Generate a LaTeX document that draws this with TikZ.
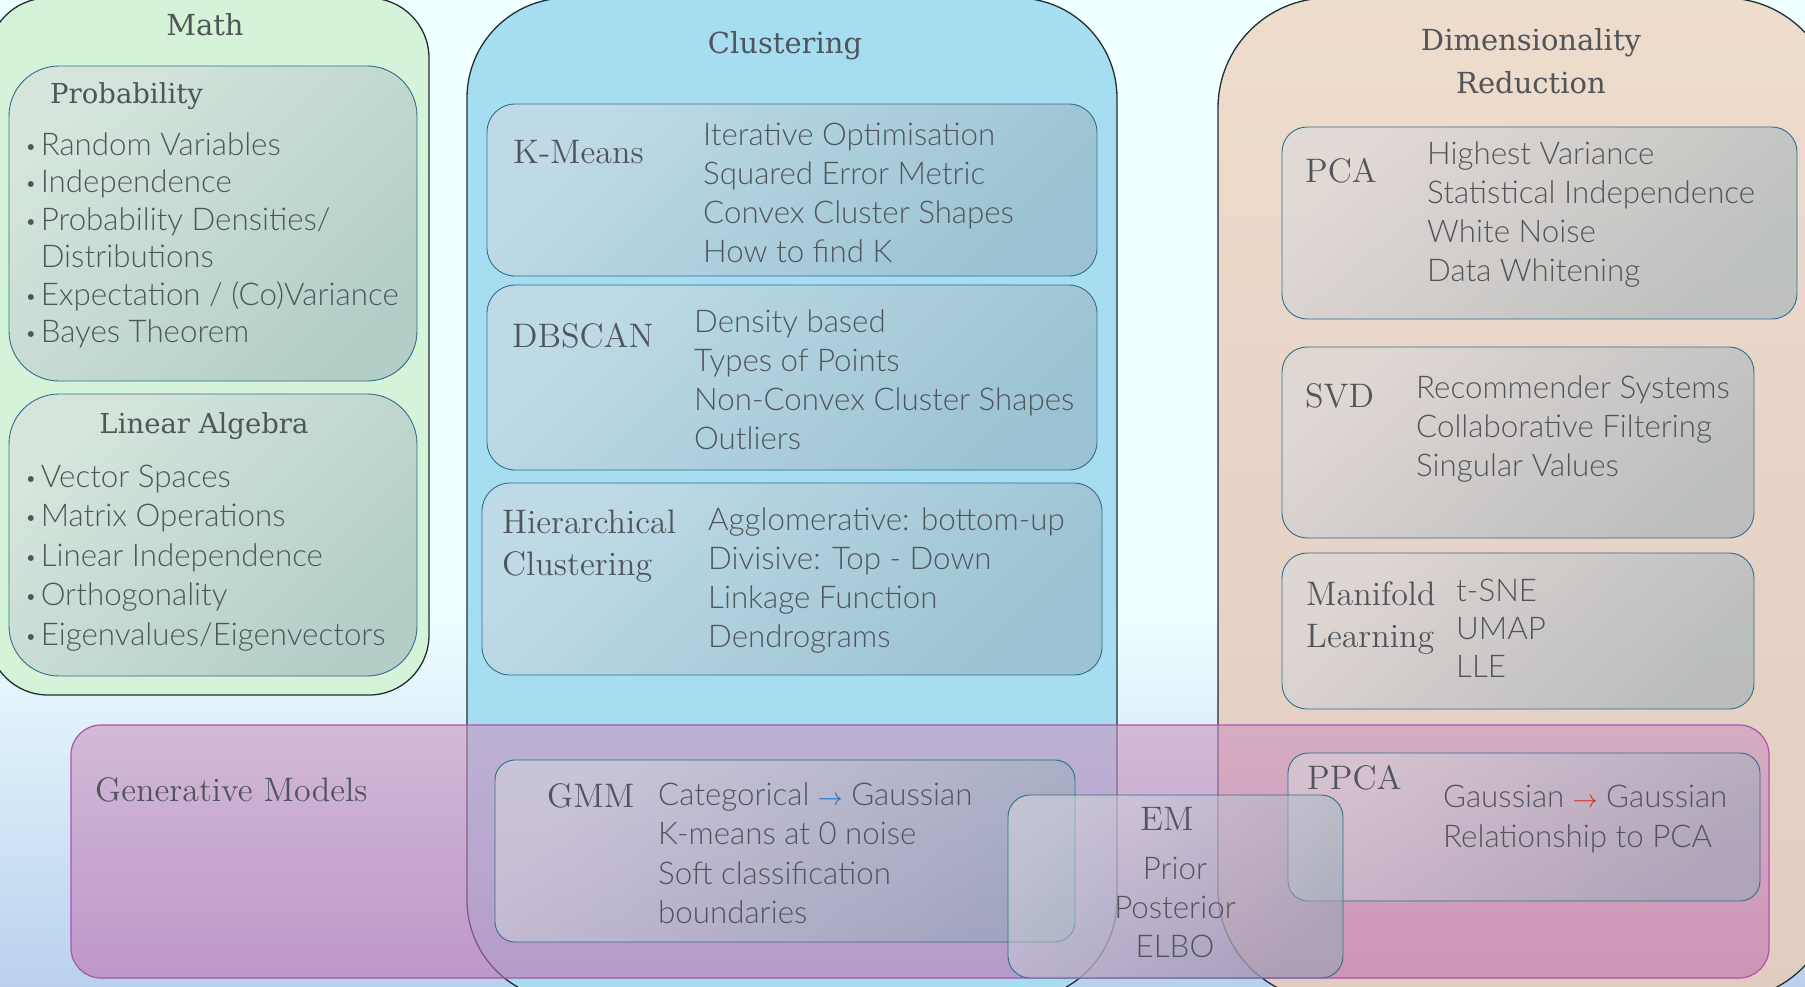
\documentclass[tikz,border=0pt]{standalone}
\usepackage{fontspec}
\setsansfont{Lato Light}
\newfontfamily\slabfont{DejaVu Serif}
\newfontfamily\boxfont{lmroman12-regular}[Extension=.otf]
\usetikzlibrary{positioning}
\definecolor{bgtop}{HTML}{F0FFFF}
\definecolor{bgbot}{HTML}{B9D1EE}
\definecolor{mathfill}{HTML}{D5F3D9}
\definecolor{clusfill}{HTML}{A7DDF0}
\definecolor{dimtop}{HTML}{EEDCCC}
\definecolor{dimbot}{HTML}{E2CCC2}
\definecolor{outline}{HTML}{1F2F35}
\definecolor{innerline}{HTML}{2E6E8C}
\definecolor{shadelt}{HTML}{D7D9DF}
\definecolor{shadedk}{HTML}{91ABB7}
\definecolor{genlt}{HTML}{CB96C1}
\definecolor{gendk}{HTML}{C070B0}
\definecolor{genline}{HTML}{B050B0}
\definecolor{ink}{HTML}{50555B}
\definecolor{arrowblue}{HTML}{1F6FBF}
\definecolor{arrowred}{HTML}{D42A1A}
\newcommand\smalldot{\raisebox{2pt}{\fontsize{20}{20}\selectfont\textbullet}\hspace{4pt}}

\begin{document}
\begin{tikzpicture}[x=1pt, y=-1pt,
    outer/.style={draw=outline, line width=1.3pt},
    inner/.style={draw=innerline, line width=0.9pt, top color=shadelt, bottom color=shadedk, shading angle=45, fill opacity=0.5},
    head/.style={font=\slabfont\fontsize{29}{36}\selectfont, text=ink, inner sep=0pt},
    subhead/.style={head, font=\slabfont\fontsize{27.5}{34}\selectfont},
    boxhead/.style={font=\boxfont\fontsize{34}{40}\selectfont, text=ink, inner sep=0pt, anchor=base west},
    item/.style={font=\sffamily\fontsize{31.3}{36}\selectfont, text=ink, inner sep=0pt, anchor=base west}]
    \useasboundingbox (0,0) rectangle (1805,986);
    \clip (0,0) rectangle (1805,986);
    \fill[bgtop] (0,0) rectangle (1805,986);
    \shade[top color=bgtop, bottom color=bgbot] (0,600) rectangle (1805,986);

    % Math
    \draw[outer, fill=mathfill, rounded corners=60pt] (-12,-2) rectangle (429,695);
    \node[head, anchor=base] (math) at (205,35) {Math};
    \draw[inner, rounded corners=50pt] (9,66) rectangle (417,381);
    \node[subhead, anchor=base west] (prob) at (50,103) {Probability};
    \foreach \t [count=\i from 0] in {Random Variables, Independence, Probability Densities/}
        \node[item] (pr\i) at (25,155+37.5*\i) {\smalldot\t};
    \node[item] (pr3) at (25,267.5) {\phantom{\smalldot}Distributions};
    \foreach \t [count=\i from 4] in {{Expectation / (Co)Variance}, Bayes Theorem}
        \node[item] (pr\i) at (25,155+37.5*\i) {\smalldot\t};
    \draw[inner, rounded corners=50pt] (9,394) rectangle (417,676);
    \node[subhead, anchor=base] (linalg) at (204,433) {Linear Algebra};
    \foreach \t [count=\i from 0] in {Vector Spaces, Matrix Operations, Linear Independence, Orthogonality, Eigenvalues/Eigenvectors}
        \node[item] (la\i) at (25,487+39.5*\i) {\smalldot\t};

    % Clustering
    \draw[outer, fill=clusfill, rounded corners=100pt] (467,-2) rectangle (1117,1000);
    \node[head, anchor=base] (clus) at (785,53) {Clustering};
    \draw[inner, rounded corners=28pt] (487,104) rectangle (1097,276);
    \node[boxhead] (kmeans) at (513,163) {K-Means};
    \foreach \t [count=\i from 0] in {Iterative Optimisation, Squared Error Metric, Convex Cluster Shapes, How to find K}
        \node[item] (km\i) at (703,145+39*\i) {\t};
    \draw[inner, rounded corners=28pt] (487,285) rectangle (1097,470);
    \node[boxhead] (dbscan) at (512,347) {DBSCAN};
    \foreach \t [count=\i from 0] in {Density based, Types of Points, Non-Convex Cluster Shapes, Outliers}
        \node[item] (db\i) at (694,332+39.3*\i) {\t};
    \draw[inner, rounded corners=28pt] (482,483) rectangle (1102,675);
    \node[boxhead] (hier) at (502,533) {Hierarchical};
    \node[boxhead] (hier2) at (502,575) {Clustering};
    \foreach \t [count=\i from 0] in {Agglomerative: bottom-up, Divisive: Top - Down, Linkage Function, Dendrograms}
        \node[item] (hc\i) at (708,530+39.3*\i) {\t};

    % Dimensionality Reduction
    \draw[outer, top color=dimtop, bottom color=dimbot, rounded corners=110pt] (1218,-2) rectangle (1835,1000);
    \node[head, anchor=base] (dim) at (1531,50) {Dimensionality};
    \node[head, anchor=base] (dim2) at (1531,93) {Reduction};
    \draw[inner, rounded corners=25pt] (1282,127) rectangle (1797,319);
    \node[boxhead] (pca) at (1305,182) {PCA};
    \foreach \t [count=\i from 0] in {Highest Variance, Statistical Independence, White Noise, Data Whitening}
        \node[item] (pc\i) at (1427,164+39.2*\i) {\t};
    \draw[inner, rounded corners=25pt] (1282,347) rectangle (1754,538);
    \node[boxhead] (svd) at (1305,407) {SVD};
    \foreach \t [count=\i from 0] in {Recommender Systems, Collaborative Filtering, Singular Values}
        \node[item] (sv\i) at (1416,398+39*\i) {\t};
    \draw[inner, rounded corners=25pt] (1282,553) rectangle (1754,709);
    \node[boxhead] (mani) at (1306,605) {Manifold};
    \node[boxhead] (mani2) at (1306,647) {Learning};
    \foreach \t [count=\i from 0] in {t-SNE, UMAP, LLE}
        \node[item] (ml\i) at (1456,601+38*\i) {\t};

    % Generative Models (on top)
    \draw[draw=genline, line width=1.2pt, top color=genlt, bottom color=gendk, fill opacity=0.6, rounded corners=30pt] (71,725) rectangle (1769,978);
    \node[boxhead] (gen) at (95,801) {Generative Models};
    \draw[inner, rounded corners=20pt] (495,760) rectangle (1075,942);
    \node[boxhead] (gmm) at (547,807) {GMM};
    \foreach \t [count=\i from 0] in {Categorical \textcolor{arrowblue}{$\rightarrow$} Gaussian, K-means at 0 noise, Soft classification, boundaries}
        \node[item] (gm\i) at (658,805+39.5*\i) {\t};
    \draw[inner, rounded corners=20pt] (1288,753) rectangle (1760,901);
    \node[boxhead] (ppca) at (1307,789) {PPCA};
    \node[item] (pp0) at (1443,807) {Gaussian \textcolor{arrowred}{$\rightarrow$} Gaussian};
    \node[item] (pp1) at (1443,847) {Relationship to PCA};
    \draw[inner, rounded corners=22pt] (1008,795) rectangle (1343,978);
    \node[boxhead, anchor=base] (em) at (1167,830) {EM};
    \foreach \t [count=\i from 0] in {Prior, Posterior, ELBO}
        \node[item, anchor=base] (em\i) at (1175,879+39*\i) {\t};
\end{tikzpicture}
\end{document}
